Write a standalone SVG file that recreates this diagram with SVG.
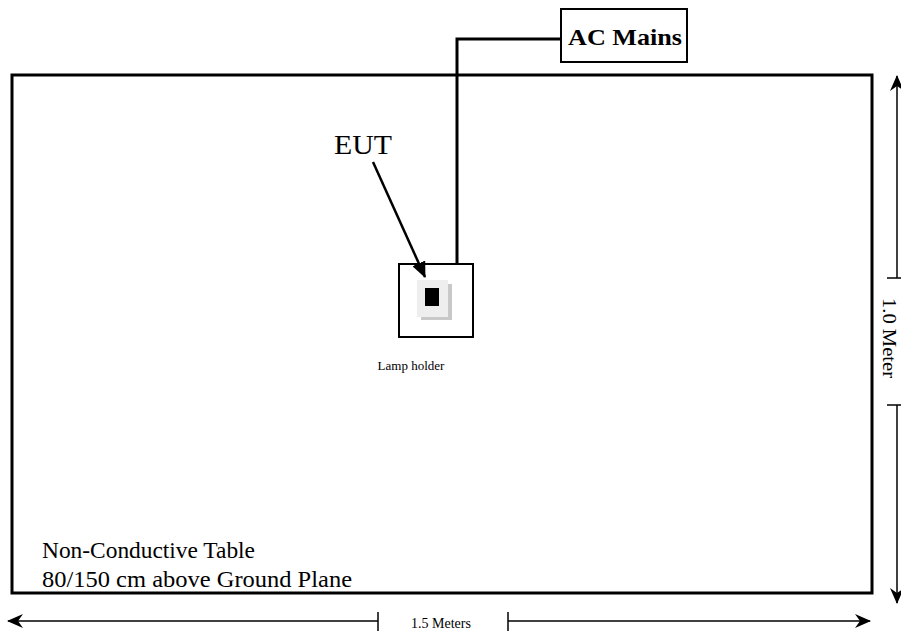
<svg xmlns="http://www.w3.org/2000/svg" width="901" height="637" viewBox="0 0 901 637">
<style>
text{font-family:"Liberation Serif","Times New Roman",serif;fill:#000}
.box{fill:#fff;stroke:#000}
.wire{fill:none;stroke:#000;stroke-width:3}
.dim{fill:none;stroke:#000;stroke-width:1.5}
</style>
<defs>
<marker id="stealth" markerUnits="userSpaceOnUse" viewBox="0 0 16 14" refX="15" refY="7" markerWidth="16" markerHeight="14" orient="auto-start-reverse">
<path d="M0,0 L16,7 L0,14 L5,7 z" fill="#000"/>
</marker>
<marker id="tri" markerUnits="userSpaceOnUse" viewBox="0 0 16 14" refX="15" refY="7" markerWidth="16" markerHeight="14" orient="auto">
<path d="M0,0 L16,7 L0,14 z" fill="#000"/>
</marker>
</defs>
<g id="table">
<rect class="box" x="12" y="75" width="860" height="518" stroke-width="3"/>
<text x="42" y="558" font-size="23" textLength="213" lengthAdjust="spacingAndGlyphs">Non-Conductive Table</text>
<text x="42" y="587" font-size="24" textLength="310" lengthAdjust="spacingAndGlyphs">80/150 cm above Ground Plane</text>
</g>
<g id="ac-mains">
<rect class="box" x="561" y="9" width="126" height="53" stroke-width="2"/>
<text x="568" y="45" font-size="24" font-weight="bold" textLength="114" lengthAdjust="spacingAndGlyphs">AC Mains</text>
</g>
<g id="lamp-holder">
<rect class="box" x="399" y="264" width="74" height="73" stroke-width="2"/>
<rect x="421" y="284" width="31" height="36" fill="#c8c8c8"/>
<rect x="417" y="280" width="31" height="37" fill="#eeeeee"/>
<rect x="425" y="288" width="14" height="18" fill="#000"/>
<text x="411" y="370" font-size="13" text-anchor="middle">Lamp holder</text>
</g>
<g id="eut-label">
<text x="334" y="154" font-size="28" textLength="58" lengthAdjust="spacingAndGlyphs">EUT</text>
</g>
<g id="connectors">
<polyline class="wire" points="561,39 457,39 457,264"/>
<line x1="373" y1="162" x2="425" y2="277" stroke="#000" stroke-width="2.5" marker-end="url(#tri)"/>
<line class="dim" x1="897" y1="76" x2="897" y2="278" stroke="#444" marker-start="url(#stealth)"/>
<line class="dim" x1="897" y1="405" x2="897" y2="603" stroke="#444" marker-end="url(#stealth)"/>
<line class="dim" x1="887" y1="278" x2="901" y2="278"/>
<line class="dim" x1="887" y1="405" x2="901" y2="405"/>
<line class="dim" x1="8" y1="621" x2="378" y2="621" marker-start="url(#stealth)"/>
<line class="dim" x1="508" y1="621" x2="870" y2="621" marker-end="url(#stealth)"/>
<line class="dim" x1="378" y1="612" x2="378" y2="631"/>
<line class="dim" x1="508" y1="612" x2="508" y2="631"/>
</g>
<g id="dimension-labels">
<text x="441" y="628" font-size="14" text-anchor="middle">1.5 Meters</text>
<text transform="translate(883,338) rotate(90)" font-size="19" textLength="80" lengthAdjust="spacingAndGlyphs" text-anchor="middle">1.0 Meter</text>
</g>
</svg>
